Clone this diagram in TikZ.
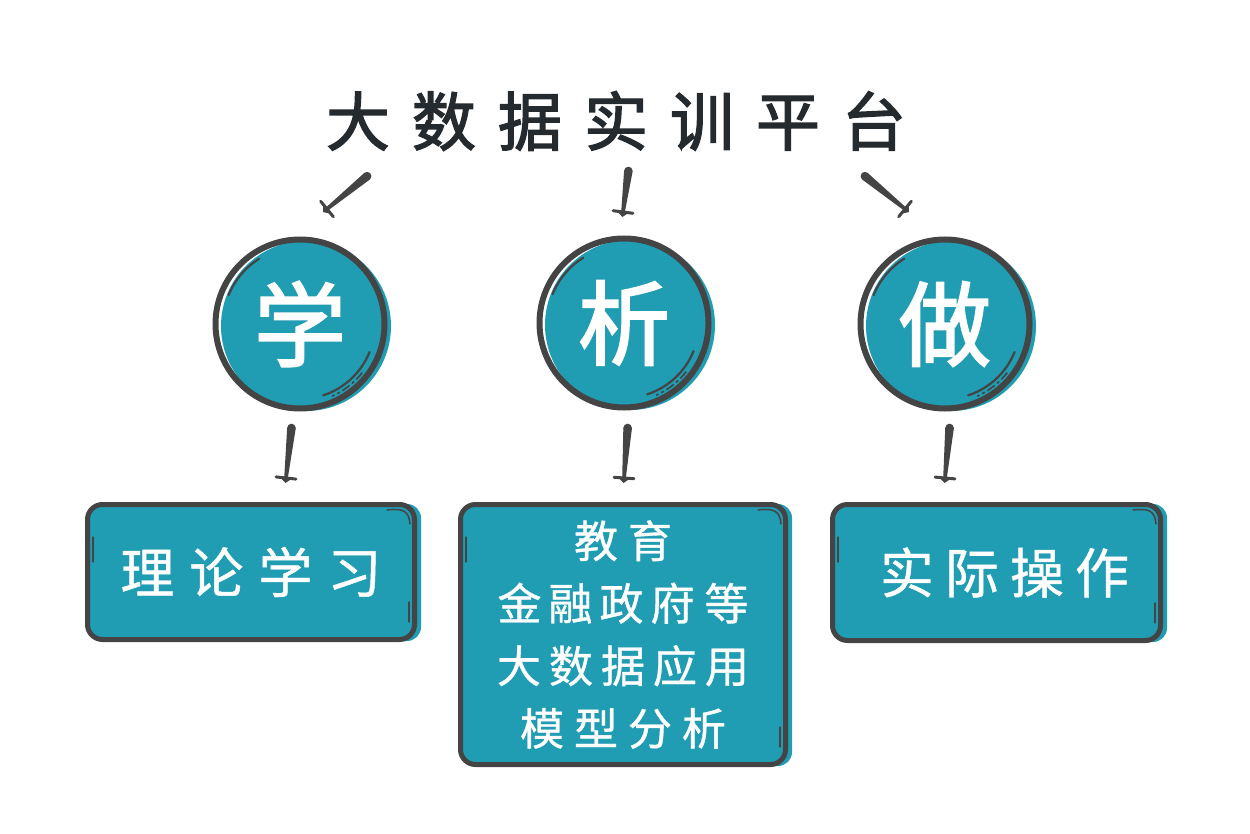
\documentclass[tikz,border=0pt]{standalone}
\usepackage{fontspec}
\usetikzlibrary{calc,backgrounds}
\newfontfamily\cjk{Noto Sans CJK SC}
\newfontfamily\cjkmed{Noto Sans CJK SC}[FakeBold=2.2]
\newfontfamily\cjklt{Noto Sans CJK SC}[FakeBold=0.8]
\definecolor{tealc}{RGB}{32,156,179}
\definecolor{ink}{RGB}{68,68,68}
\definecolor{titlec}{RGB}{37,42,46}
\newcommand\brush[2]{%
  \coordinate (#1m) at ($(#1)!5pt!(#2)$);
  \fill[ink] (#1m) circle[radius=4.3pt];
  \fill[ink] ($(#1m)!4.3pt!90:(#2)$) -- ($(#2)!1.8pt!-90:(#1m)$) -- ($(#2)!1.8pt!90:(#1m)$) -- ($(#1m)!4.3pt!-90:(#2)$) -- cycle;
  \draw[ink, line width=3pt, line cap=round] ($(#2)!10pt!90:(#1)$) -- ($(#2)!10pt!-90:(#1)$);
  \fill[ink] ($(#2)!6pt!90:(#1)$) -- ($(#2)!6pt!-90:(#1)$) -- ($(#2)!5pt!180:(#1)$) -- cycle;
}
\newcommand\circdeco[1]{%
  \fill[tealc] ($(#1.center)+(6,2)$) circle[radius=85];
  \draw[ink, line width=2.2pt, line cap=round] ([shift={(#1.center)}]-158:77) arc[start angle=-158, end angle=-122, radius=77];
  \draw[ink, line width=2.2pt, line cap=round] ([shift={(#1.center)}]22:75) arc[start angle=22, end angle=72, radius=75];
  \draw[ink, line width=1.6pt, dash pattern=on 9pt off 3pt on 3pt off 3pt] ([shift={(#1.center)}]38:79) arc[start angle=38, end angle=66, radius=79];
}
\newcommand\boxdeco[1]{%
  \fill[tealc, rounded corners=14pt] ($(#1.north west)+(2,2)$) rectangle ($(#1.south east)+(4,-1)$);
  \draw[ink, line width=1.5pt, line cap=round] ($(#1.north east)+(-30,8)$) .. controls ($(#1.north east)+(-14,6)$) and ($(#1.north east)+(-8,9)$) .. ($(#1.north east)+(-7,22)$);
  \draw[ink, line width=1.2pt, line cap=round] ($(#1.north west)+(8,35)$) -- ($(#1.north west)+(8,60)$);
  \draw[ink, line width=1.2pt, line cap=round] ($(#1.south east)+(-8,-40)$) -- ($(#1.south east)+(-8,-20)$);
}
\begin{document}
\begin{tikzpicture}[x=1pt,y=-1pt,
  circ/.style={circle, draw=ink, line width=6pt, minimum size=169pt, inner sep=0pt, text=white, font=\cjkmed\fontsize{92}{92}\selectfont},
  tbox/.style={rectangle, rounded corners=15pt, draw=ink, line width=5pt, inner sep=0pt, text=white, align=center},
  boxfont/.style={font=\cjklt\fontsize{54}{54}\selectfont},
  midfont/.style={font=\cjklt\fontsize{44}{62.5}\selectfont}]
\useasboundingbox (0,0) rectangle (1250,834);

\node[text=titlec, font=\cjkmed\fontsize{64}{64}\selectfont, inner sep=0pt] (title) at (616,121)
  {大\kern22pt 数\kern22pt 据\kern22pt 实\kern22pt 训\kern22pt 平\kern22pt 台};

\node[circ] (c1) at (300,324) {学};
\node[circ] (c2) at (624,323) {析};
\node[circ] (c3) at (945,324) {做};

\node[tbox, boxfont, minimum width=327pt, minimum height=135pt] (b1) at (251,572)
  {理\kern15pt 论\kern15pt 学\kern15pt 习};
\node[tbox, midfont, minimum width=325pt, minimum height=260pt] (b2) at (623,634.5)
  {教\kern10pt 育\\金\kern7pt 融\kern7pt 政\kern7pt 府\kern10pt 等\\大\kern8pt 数\kern8pt 据\kern8pt 应\kern8pt 用\\模\kern10pt 型\kern10pt 分\kern10pt 析};
\node[tbox, boxfont, minimum width=328pt, minimum height=136pt] (b3) at (996.5,572.5)
  {\hspace*{16pt}实\kern11pt 际\kern11pt 操\kern11pt 作};

\begin{scope}[on background layer]
  \circdeco{c1}\circdeco{c2}\circdeco{c3}
  \boxdeco{b1}\boxdeco{b2}\boxdeco{b3}
\end{scope}

\coordinate (t1s) at (371,173); \coordinate (t1e) at (327,209);
\coordinate (t2s) at (629,166); \coordinate (t2e) at (623,212);
\coordinate (t3s) at (861,173); \coordinate (t3e) at (905,209);
\coordinate (d1s) at (292,423); \coordinate (d1e) at (286,478);
\coordinate (d2s) at (628,423); \coordinate (d2e) at (624,478);
\coordinate (d3s) at (950,423); \coordinate (d3e) at (945,478);
\brush{t1s}{t1e}\brush{t2s}{t2e}\brush{t3s}{t3e}
\brush{d1s}{d1e}\brush{d2s}{d2e}\brush{d3s}{d3e}
\end{tikzpicture}
\end{document}
